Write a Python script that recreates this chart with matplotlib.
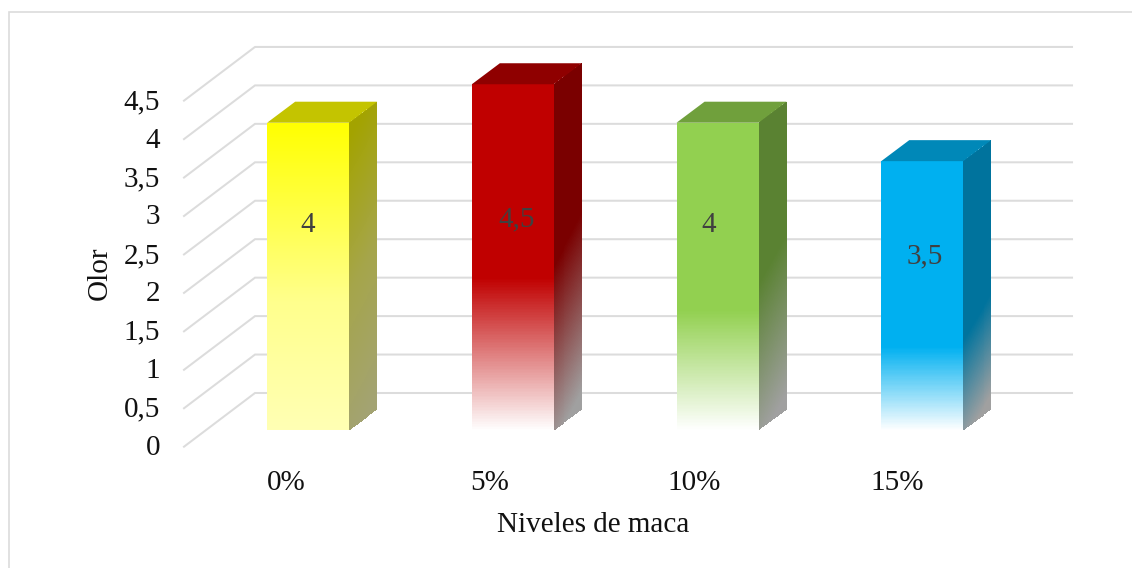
import numpy as np
import matplotlib
matplotlib.use("Agg")
import matplotlib.pyplot as plt
from matplotlib.colors import to_rgb

plt.rcParams['font.family'] = ['Liberation Serif', 'DejaVu Serif']

# ---- data ----
categories = ['0%', '5%', '10%', '15%']
values = [4, 4.5, 4, 3.5]
value_labels = ['4', '4,5', '4', '3,5']
y_ticks = [0, 0.5, 1, 1.5, 2, 2.5, 3, 3.5, 4, 4.5]
y_tick_labels = ['0', '0,5', '1', '1,5', '2', '2,5', '3', '3,5', '4', '4,5']
x_title = 'Niveles de maca'
y_title = 'Olor'

# ---- styles: gradient stops as (fraction of bar height from the top, colour) ----
front_stops = [
    [(0, '#ffff00'), (0.58, '#ffff8c'), (1, '#ffffb4')],
    [(0, '#c00000'), (0.56, '#c00000'), (1, '#ffffff')],
    [(0, '#92d050'), (0.61, '#92d050'), (1, '#ffffff')],
    [(0, '#00b0f0'), (0.69, '#00b0f0'), (1, '#ffffff')],
]
side_stops = [
    [(0, '#a3a300'), (0.5, '#a5a54a'), (1, '#a3a372')],
    [(0, '#7a0000'), (0.48, '#7a0000'), (1, '#a0a0a0')],
    [(0, '#5a8232'), (0.48, '#5a8232'), (1, '#a0a0a0')],
    [(0, '#00739d'), (0.62, '#00739d'), (1, '#a0a0a0')],
]
top_colors = ['#c4c400', '#8f0000', '#70a03c', '#0088b8']
grid_color = '#dcdcdc'
text_color = '#111111'
label_color = '#404040'

# ---- layout (pixels) ----
W, H = 1132, 568
X0, DX = 308.15, 204.7      # first bar centre, spacing
Y0, PPU = 430.3, 76.9       # value 0 at bar front, pixels per unit
HALF_W = 41
DEPTH_X, DEPTH_Y = 28, 21
SIDE_SKEW = 0.1
WALL_L, WALL_R = 255, 1072
WALL_UP = 37.3
FRONT_L, FRONT_DOWN = 184, 16.4
LABEL_Y = [224.5, 219.5, 224.5, 256]
LABEL_X = [308, 517, 709, 925]
CAT_X = [286, 490, 694, 897]
CAT_Y = 483
TICK_DROP = 1.5

fig = plt.figure(figsize=(W / 100, H / 100), dpi=100, facecolor='white')
ax = fig.add_axes([0, 0, 1, 1])
ax.set_xlim(-X0 / DX, (W - X0) / DX)
ax.set_ylim((Y0 - H) / PPU, Y0 / PPU)
ax.axis('off')

px = lambda p: (p - X0) / DX      # absolute x pixel -> x data
dpx = lambda d: d / DX            # x pixel length -> x data
dpy = lambda d: d / PPU           # y pixel length -> y data
py = lambda p: (Y0 - p) / PPU     # absolute y pixel -> y data


def ramp(stops, t):
    pos = [s[0] for s in stops]
    cols = np.array([to_rgb(s[1]) for s in stops])
    return np.stack([np.interp(t, pos, cols[:, i]) for i in range(3)], axis=-1)


# outer frame (only left and top edges are visible in the crop)
ax.plot([9 / W, 9 / W, 1], [0, 1 - 11.5 / H, 1 - 11.5 / H], transform=ax.transAxes,
        color=grid_color, lw=1.2, zorder=1, solid_joinstyle='miter')

# gridlines on floor/wall
for v, lab in zip(y_ticks, y_tick_labels):
    ax.plot([px(FRONT_L), px(WALL_L), px(WALL_R)],
            [v - dpy(FRONT_DOWN), v + dpy(WALL_UP), v + dpy(WALL_UP)],
            color=grid_color, lw=1.45, zorder=1, solid_joinstyle='miter')
    ax.text(px(160), v - dpy(FRONT_DOWN + TICK_DROP), lab, ha='right', va='center',
            fontsize=21, color=text_color)

# bars
for i, v in enumerate(values):
    xl, xr = i - dpx(HALF_W), i + dpx(HALF_W)
    n = 220
    t = np.linspace(0, 1, n)               # 0 = top of the bar
    te = (t[:-1] + t[1:]) / 2
    ys = v * (1 - t)

    # front face
    X, Y = np.meshgrid([xl, xr], ys)
    ax.pcolormesh(X, Y, ramp(front_stops[i], te)[:, None, :], shading='flat',
                  antialiased=False, linewidth=0, zorder=3)

    # side face
    u = np.linspace(0, 1, 30)
    ue = (u[:-1] + u[1:]) / 2
    X = np.tile(xr + u * dpx(DEPTH_X), (n, 1))
    Y = ys[:, None] + u[None, :] * dpy(DEPTH_Y)
    side_t = np.clip(te[:, None] + SIDE_SKEW * (ue[None, :] - 0.5), 0, 1)
    ax.pcolormesh(X, Y, ramp(side_stops[i], side_t), shading='flat',
                  antialiased=False, linewidth=0, zorder=3)

    # top face
    ax.fill([xl, xr, xr + dpx(DEPTH_X), xl + dpx(DEPTH_X)],
            [v, v, v + dpy(DEPTH_Y), v + dpy(DEPTH_Y)],
            color=top_colors[i], lw=0, zorder=3)

    # labels
    ax.text(px(LABEL_X[i]), py(LABEL_Y[i]), value_labels[i], ha='center',
            va='center', fontsize=21, color=label_color, zorder=5)
    ax.text(px(CAT_X[i]), py(CAT_Y), categories[i], ha='center', va='center',
            fontsize=21, color=text_color)

ax.text(px(593), py(525), x_title, ha='center', va='center', fontsize=21, color=text_color)
ax.text(px(100), py(273), y_title, ha='center', va='center', rotation=90,
        fontsize=21, color=text_color)

fig.savefig('out.png', dpi=100, facecolor='white')
